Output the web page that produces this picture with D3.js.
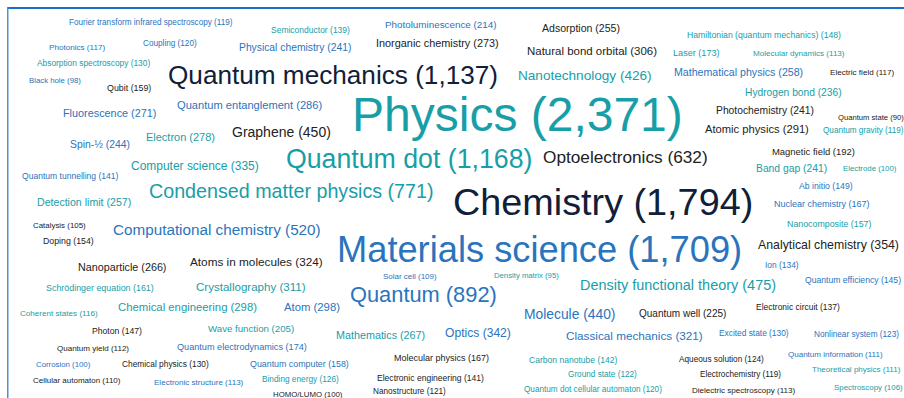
<!DOCTYPE html>
<html lang="en">
  <head>
    <meta charset="utf-8">
    <script src="https://d3js.org/d3.v7.min.js"></script>
    <style>
      body { margin: 0; background: #fff; }
      text { font-family: Arial, "Liberation Sans", sans-serif; }
    </style>
  </head>
  <body>
    <svg id="cloud"></svg>
    <script>
    // topics and publication counts
    var terms = [
      "Physics", "Chemistry", "Materials science", "Quantum dot", "Quantum mechanics",
      "Quantum", "Condensed matter physics", "Optoelectronics", "Computational chemistry",
      "Density functional theory", "Graphene", "Molecule", "Nanotechnology",
      "Analytical chemistry", "Optics", "Computer science", "Atoms in molecules",
      "Classical mechanics", "Crystallography", "Natural bond orbital", "Chemical engineering",
      "Atom", "Atomic physics", "Quantum entanglement", "Electron", "Inorganic chemistry",
      "Fluorescence", "Mathematics", "Nanoparticle", "Mathematical physics", "Detection limit",
      "Adsorption", "Spin-½", "Physical chemistry", "Photochemistry", "Band gap",
      "Hydrogen bond", "Quantum well", "Photoluminescence", "Wave function", "Magnetic field",
      "Quantum electrodynamics", "Laser", "Molecular physics", "Nuclear chemistry",
      "Schrödinger equation", "Qubit", "Quantum computer", "Nanocomposite", "Doping",
      "Ab initio", "Hamiltonian (quantum mechanics)", "Photon", "Quantum efficiency",
      "Carbon nanotube", "Quantum tunnelling", "Electronic engineering", "Semiconductor",
      "Electronic circuit", "Ion", "Absorption spectroscopy", "Excited state", "Chemical physics",
      "Binding energy", "Aqueous solution", "Nonlinear system", "Ground state",
      "Nanostructure", "Coupling", "Quantum dot cellular automaton",
      "Fourier transform infrared spectroscopy", "Quantum gravity", "Electrochemistry",
      "Photonics", "Electric field", "Coherent states", "Molecular dynamics",
      "Electronic structure", "Dielectric spectroscopy", "Quantum yield", "Quantum information",
      "Theoretical physics", "Cellular automaton", "Solar cell", "Spectroscopy", "Catalysis",
      "Electrode", "Corrosion", "HOMO/LUMO", "Black hole", "Density matrix", "Quantum state"
    ];
    var counts = [
      2371, 1794, 1709, 1168, 1137,
      892, 771, 632, 520,
      475, 450, 440, 426,
      354, 342, 335, 324,
      321, 311, 306, 298,
      298, 291, 286, 278, 273,
      271, 267, 266, 258, 257,
      255, 244, 241, 241, 241,
      236, 225, 214, 205, 192,
      174, 173, 167, 167,
      161, 159, 158, 157, 154,
      149, 148, 147, 145,
      142, 141, 141, 139,
      137, 134, 130, 130, 130,
      126, 124, 123, 122,
      121, 120, 120,
      119, 119, 119,
      117, 117, 116, 113,
      113, 113, 112, 111,
      111, 110, 109, 106, 105,
      100, 100, 100, 98, 95, 90
    ];

    // where each word sits (left x, baseline y), same order as terms
    var spots = [
      [352, 131], [453, 215], [337, 262], [286, 168], [168, 84],
      [350, 302], [149, 198], [543, 163], [113, 235],
      [580, 290], [232, 137], [524, 319], [518, 80],
      [758, 249], [445, 337], [131, 170], [190, 266],
      [566, 340], [196, 291], [527, 55], [118, 311],
      [284, 311], [705, 133], [177, 109], [146, 141], [376, 47],
      [63, 117], [336, 339], [78, 271], [674, 76], [37, 206],
      [542, 32], [70, 148], [239, 51], [716, 114], [756, 172],
      [745, 96], [639, 317], [385, 28], [208, 332], [772, 155],
      [177, 350], [673, 56], [394, 361], [774, 207],
      [46, 291], [107, 91], [250, 367], [787, 227], [43, 244],
      [799, 189], [687, 38], [92, 334], [805, 283],
      [529, 363], [22, 179], [377, 381], [271, 33],
      [756, 310], [765, 268], [37, 66], [719, 336], [122, 367],
      [262, 382], [679, 362], [814, 337], [568, 377],
      [373, 394], [143, 46], [524, 392],
      [69, 25], [823, 133], [700, 377],
      [49, 50], [830, 75], [20, 316], [753, 56],
      [154, 385], [692, 393], [57, 351], [788, 357],
      [812, 372], [33, 383], [383, 279], [834, 390], [33, 228],
      [843, 171], [36, 367], [273, 397], [29, 83], [494, 278], [838, 120]
    ];

    // colour group per word: t teal, b blue, n navy, k dark
    var tones = [
      "t", "n", "b", "t", "n",
      "b", "t", "k", "b", "t",
      "k", "b", "t", "k", "b",
      "t", "k", "b", "t", "k",
      "t", "b", "k", "b", "t",
      "k", "b", "t", "k", "b",
      "t", "k", "b", "b", "k",
      "t", "t", "k", "b", "t",
      "k", "b", "t", "k", "b",
      "t", "k", "b", "t", "k",
      "b", "t", "k", "b", "t",
      "b", "k", "t", "k", "b",
      "t", "b", "k", "t", "k",
      "b", "t", "k", "b", "t",
      "b", "t", "k", "b", "k",
      "t", "t", "b", "k", "k",
      "b", "t", "k", "b", "t",
      "k", "t", "b", "k", "b",
      "t", "k"
    ];

    var palette = { t: "#189ea7", b: "#2a74bd", n: "#0f2038", k: "#222222" };

    var width = 904, height = 398;
    var svg = d3.select("#cloud").attr("width", width).attr("height", height);

    var size = d3.scaleLinear()
      .domain([90, 2371])
      .range([7.65, 48]);

    var fmt = d3.format(",");

    var words = terms.map(function(t, i) {
      return { term: t, count: counts[i], x: spots[i][0], y: spots[i][1], tone: tones[i] };
    });

    svg.selectAll("text.word")
      .data(words)
      .enter()
      .append("text")
      .attr("class", "word")
      .attr("x", function(d) { return d.x; })
      .attr("y", function(d) { return d.y; })
      .attr("font-size", function(d) { return size(d.count) + "px"; })
      .attr("fill", function(d) { return palette[d.tone] || "#222"; })
      .text(function(d) { return d.term + " (" + fmt(d.count) + ")"; });

    // frame: top and left edges only
    svg.append("rect").attr("x", 7).attr("y", 7).attr("width", width - 7).attr("height", 2).attr("fill", "#1b6fc2");
    svg.append("rect").attr("x", 7).attr("y", 7).attr("width", 1.5).attr("height", height - 7).attr("fill", "#4f8fd0");
    </script>
  </body>
</html>
